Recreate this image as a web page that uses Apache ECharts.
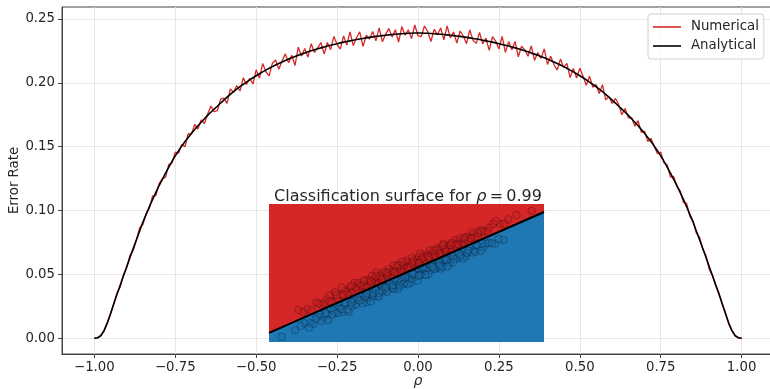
<!DOCTYPE html>
<html><head><meta charset="utf-8">
<script src="https://cdn.jsdelivr.net/npm/echarts@6/dist/echarts.min.js"></script>
<style>html,body{margin:0;padding:0;background:#fff}#c{width:770px;height:389px}</style>
</head><body><div id="c"></div>
<script>
const rho = [-1.00,-0.99,-0.98,-0.97,-0.96,-0.95,-0.94,-0.93,-0.92,-0.91,
-0.90,-0.89,-0.88,-0.87,-0.86,-0.85,-0.84,-0.83,-0.82,-0.81,
-0.80,-0.79,-0.78,-0.77,-0.76,-0.75,-0.74,-0.73,-0.72,-0.71,
-0.70,-0.69,-0.68,-0.67,-0.66,-0.65,-0.64,-0.63,-0.62,-0.61,
-0.60,-0.59,-0.58,-0.57,-0.56,-0.55,-0.54,-0.53,-0.52,-0.51,
-0.50,-0.49,-0.48,-0.47,-0.46,-0.45,-0.44,-0.43,-0.42,-0.41,
-0.40,-0.39,-0.38,-0.37,-0.36,-0.35,-0.34,-0.33,-0.32,-0.31,
-0.30,-0.29,-0.28,-0.27,-0.26,-0.25,-0.24,-0.23,-0.22,-0.21,
-0.20,-0.19,-0.18,-0.17,-0.16,-0.15,-0.14,-0.13,-0.12,-0.11,
-0.10,-0.09,-0.08,-0.07,-0.06,-0.05,-0.04,-0.03,-0.02,-0.01,
0.00,
0.01,0.02,0.03,0.04,0.05,0.06,0.07,0.08,0.09,0.10,
0.11,0.12,0.13,0.14,0.15,0.16,0.17,0.18,0.19,0.20,
0.21,0.22,0.23,0.24,0.25,0.26,0.27,0.28,0.29,0.30,
0.31,0.32,0.33,0.34,0.35,0.36,0.37,0.38,0.39,0.40,
0.41,0.42,0.43,0.44,0.45,0.46,0.47,0.48,0.49,0.50,
0.51,0.52,0.53,0.54,0.55,0.56,0.57,0.58,0.59,0.60,
0.61,0.62,0.63,0.64,0.65,0.66,0.67,0.68,0.69,0.70,
0.71,0.72,0.73,0.74,0.75,0.76,0.77,0.78,0.79,0.80,
0.81,0.82,0.83,0.84,0.85,0.86,0.87,0.88,0.89,0.90,
0.91,0.92,0.93,0.94,0.95,0.96,0.97,0.98,0.99,1.00];

const numerical = [0.0000,0.0003,0.0024,0.0059,0.0126,0.0185,0.0271,0.0356,0.0402,0.0498,
0.0553,0.0650,0.0689,0.0770,0.0866,0.0891,0.0976,0.1018,0.1115,0.1118,
0.1211,0.1248,0.1262,0.1361,0.1374,0.1458,0.1449,0.1517,0.1500,0.1602,
0.1597,0.1674,0.1638,0.1710,0.1682,0.1754,0.1818,0.1774,0.1782,0.1873,
0.1881,0.1840,0.1953,0.1925,0.1979,0.1936,0.2040,0.1988,0.2035,0.1991,
0.2102,0.2038,0.2151,0.2087,0.2055,0.2153,0.2179,0.2106,0.2171,0.2227,
0.2158,0.2217,0.2136,0.2279,0.2211,0.2269,0.2201,0.2307,0.2238,0.2274,
0.2316,0.2225,0.2316,0.2260,0.2364,0.2300,0.2264,0.2368,0.2296,0.2399,
0.2292,0.2353,0.2400,0.2285,0.2373,0.2342,0.2402,0.2329,0.2430,0.2321,
0.2380,0.2425,0.2358,0.2416,0.2320,0.2441,0.2373,0.2416,0.2347,0.2453,
0.2369,
0.2362,0.2445,0.2402,0.2324,0.2420,0.2376,0.2430,0.2337,0.2446,0.2352,
0.2398,0.2311,0.2406,0.2367,0.2307,0.2415,0.2334,0.2309,0.2395,0.2306,
0.2350,0.2254,0.2361,0.2327,0.2265,0.2364,0.2239,0.2323,0.2260,0.2323,
0.2204,0.2287,0.2258,0.2208,0.2290,0.2176,0.2237,0.2192,0.2266,0.2144,
0.2208,0.2144,0.2100,0.2186,0.2120,0.2153,0.2041,0.2112,0.2038,0.2115,
0.2052,0.1981,0.2053,0.1965,0.1987,0.1917,0.1986,0.1867,0.1893,0.1839,
0.1878,0.1832,0.1750,0.1799,0.1726,0.1728,0.1660,0.1704,0.1613,0.1622,
0.1540,0.1564,0.1501,0.1445,0.1458,0.1374,0.1358,0.1262,0.1268,0.1189,
0.1155,0.1064,0.1056,0.0956,0.0918,0.0824,0.0792,0.0698,0.0646,0.0540,
0.0492,0.0411,0.0356,0.0266,0.0201,0.0113,0.0061,0.0022,0.0003,0.0000];

const analytical = [0.0000,0.0004,0.0020,0.0060,0.0120,0.0195,0.0270,0.0345,0.0418,0.0490,
0.0560,0.0632,0.0703,0.0772,0.0840,0.0910,0.0970,0.1030,0.1088,0.1143,
0.1195,0.1245,0.1293,0.1340,0.1385,0.1428,0.1468,0.1505,0.1540,0.1573,
0.1605,0.1635,0.1664,0.1692,0.1719,0.1745,0.1770,0.1794,0.1817,0.1842,
0.1865,0.1888,0.1910,0.1931,0.1951,0.1970,0.1988,0.2006,0.2023,0.2040,
0.2056,0.2071,0.2086,0.2100,0.2114,0.2127,0.2140,0.2152,0.2164,0.2175,
0.2186,0.2196,0.2206,0.2216,0.2225,0.2234,0.2243,0.2251,0.2259,0.2267,
0.2274,0.2281,0.2288,0.2295,0.2301,0.2307,0.2313,0.2319,0.2324,0.2329,
0.2334,0.2339,0.2344,0.2348,0.2352,0.2356,0.2360,0.2364,0.2367,0.2370,
0.2373,0.2376,0.2379,0.2381,0.2383,0.2385,0.2387,0.2388,0.2389,0.2390,
0.2390,
0.2390,0.2389,0.2388,0.2387,0.2385,0.2383,0.2381,0.2379,0.2376,0.2373,
0.2370,0.2367,0.2364,0.2360,0.2356,0.2352,0.2348,0.2344,0.2339,0.2334,
0.2329,0.2324,0.2319,0.2313,0.2307,0.2301,0.2295,0.2288,0.2281,0.2274,
0.2267,0.2259,0.2251,0.2243,0.2234,0.2225,0.2216,0.2206,0.2196,0.2186,
0.2175,0.2164,0.2152,0.2140,0.2127,0.2114,0.2100,0.2086,0.2071,0.2056,
0.2040,0.2023,0.2006,0.1988,0.1970,0.1951,0.1931,0.1910,0.1888,0.1865,
0.1842,0.1817,0.1794,0.1770,0.1745,0.1719,0.1692,0.1664,0.1635,0.1605,
0.1573,0.1540,0.1505,0.1468,0.1428,0.1385,0.1340,0.1293,0.1245,0.1195,
0.1143,0.1088,0.1030,0.0970,0.0910,0.0840,0.0772,0.0703,0.0632,0.0560,
0.0490,0.0418,0.0345,0.0270,0.0195,0.0120,0.0060,0.0020,0.0004,0.0000];

const xTicks = [-1.00,-0.75,-0.50,-0.25,0.00,0.25,0.50,0.75,1.00];
const yTicks = [0.00,0.05,0.10,0.15,0.20,0.25];

// inset: decision boundary and samples (inset feature space)
const boundaryX = [0, 10];
const boundaryY = [0.33, 4.71];
const redPoints = [[1.07,1.16],[1.4,1.19],[1.7,1.43],[1.9,1.34],[2.0,1.42],[2.1,1.55],[2.3,1.46],[2.4,1.80],[2.6,1.69],[2.75,1.86],
[2.85,1.82],[2.9,1.70],[3.0,1.91],[3.1,2.14],[3.2,1.89],[3.3,2.09],[3.4,1.90],[3.45,2.04],[3.5,2.24],[3.6,2.12],
[3.7,2.08],[3.8,2.28],[3.9,2.51],[3.95,2.17],[4.0,2.27],[4.1,2.47],[4.15,2.22],[4.25,2.44],[4.35,2.64],[4.4,2.50],
[4.45,2.43],[4.5,2.60],[4.6,2.57],[4.7,2.49],[4.75,2.78],[4.85,2.71],[4.9,2.53],[4.95,2.64],[5.05,2.87],[5.1,2.76],
[5.2,3.05],[5.3,2.74],[5.35,2.87],[5.4,2.98],[5.5,2.91],[5.6,3.14],[5.7,3.06],[5.75,3.17],[5.8,2.99],[5.9,3.22],
[6.0,3.15],[6.1,3.40],[6.2,3.31],[6.25,3.23],[6.3,3.17],[6.4,3.47],[6.5,3.39],[6.55,3.48],[6.6,3.36],[6.7,3.56],
[6.8,3.69],[6.9,3.53],[7.0,3.67],[7.05,3.61],[7.1,3.55],[7.2,3.81],[7.3,3.75],[7.45,3.89],[7.6,3.82],[7.7,4.05],
[7.85,4.01],[8.0,4.14],[8.15,4.28],[8.4,4.28],[8.7,4.44],[9.55,4.75],
[1.25,1.08],[1.55,1.13],[1.8,1.40],[2.2,1.69],[2.5,1.58],[2.65,1.97],[2.95,1.99],[3.05,1.80],[3.25,2.15],[3.35,2.04],
[3.55,1.99],[3.65,2.26],[3.75,2.39],[3.85,2.19],[4.05,2.38],[4.2,2.55],[4.3,2.37],[4.55,2.77],[4.65,2.70],[4.8,2.61],
[5.0,2.94],[5.15,2.71],[5.25,2.93],[5.45,3.10],[5.55,3.01],[5.65,2.89],[5.85,3.32],[5.95,3.18],[6.05,3.11],[6.15,3.34],
[6.35,3.56],[6.45,3.27],[6.65,3.60],[6.75,3.49],[6.95,3.77],[7.15,3.71],[7.25,3.65],[7.4,3.99],[7.5,3.81],[7.75,4.01],
[7.95,3.99],[8.25,4.38],[8.55,4.28],[9.0,4.60],[4.0,2.13],[5.5,3.21],
[2.2,1.47],[2.45,1.70],[2.7,1.72],[3.15,1.98],[3.45,2.20],[3.7,2.19],[3.9,2.37],[4.1,2.28],[4.3,2.51],[4.55,2.52],
[4.7,2.79],[4.9,2.78],[5.05,2.69],[5.2,2.85],[5.45,2.86],[5.6,3.05],[5.8,3.09],[6.0,3.31],[6.2,3.19],[6.4,3.37],
[6.6,3.52],[6.85,3.55],[7.1,3.78],[7.35,3.75],[7.6,3.96],[3.0,2.04],[4.85,2.90],[6.3,3.49]];
const bluePoints = [[0.46,0.19],[0.95,0.43],[1.3,0.68],[1.5,0.69],[1.6,0.66],[1.75,0.92],[1.9,0.76],[2.0,0.91],[2.1,1.00],[2.25,1.20],
[2.4,1.05],[2.55,1.25],[2.6,1.21],[2.7,1.09],[2.8,1.41],[2.95,1.34],[3.05,1.58],[3.1,1.49],[3.15,1.35],[3.25,1.53],
[3.35,1.66],[3.45,1.53],[3.55,1.44],[3.6,1.61],[3.65,1.74],[3.75,1.70],[3.85,1.92],[3.95,1.68],[4.05,1.87],[4.1,2.02],
[4.15,1.99],[4.25,1.86],[4.35,2.17],[4.45,2.02],[4.55,1.92],[4.6,2.05],[4.65,2.19],[4.75,2.12],[4.85,2.33],[4.95,2.15],
[5.05,2.33],[5.1,2.29],[5.15,2.16],[5.25,2.48],[5.35,2.37],[5.45,2.64],[5.55,2.52],[5.6,2.64],[5.65,2.44],[5.75,2.68],
[5.85,2.61],[5.95,2.83],[6.05,2.65],[6.1,2.74],[6.15,2.82],[6.25,2.66],[6.35,2.98],[6.45,2.90],[6.55,2.85],[6.6,3.00],
[6.7,3.10],[6.85,3.04],[7.0,3.18],[7.15,3.10],[7.3,3.39],[7.45,3.32],[7.6,3.46],[7.8,3.44],[8.0,3.59],[8.22,3.56],[8.52,3.70],
[1.15,0.58],[1.45,0.52],[1.85,0.99],[2.15,0.79],[2.35,1.14],[2.5,1.05],[2.75,1.36],[2.9,1.10],[3.0,1.29],[3.2,1.61],
[3.4,1.40],[3.5,1.64],[3.7,1.47],[3.8,1.66],[3.9,1.86],[4.0,1.64],[4.2,1.92],[4.3,1.81],[4.4,2.11],[4.5,1.96],
[4.7,1.93],[4.8,2.21],[4.9,2.10],[5.0,2.43],[5.2,2.28],[5.3,2.45],[5.4,2.22],[5.5,2.43],[5.7,2.59],[5.8,2.45],
[5.9,2.76],[6.0,2.66],[6.2,2.87],[6.3,2.73],[6.4,3.04],[6.5,2.74],[6.75,3.01],[6.9,3.20],[7.05,3.02],[7.2,3.23],
[7.4,3.24],[7.55,3.52],[7.7,3.30],[7.9,3.57],[8.1,3.58],[8.35,3.73],[5.6,2.72],[4.1,1.83],
[2.05,1.05],[2.3,0.99],[2.65,1.19],[3.0,1.44],[3.3,1.50],[3.55,1.74],[3.8,1.77],[4.0,1.78],[4.25,1.99],[4.5,2.06],
[4.75,2.03],[4.95,2.32],[5.2,2.47],[5.45,2.40],[5.7,2.43],[5.95,2.72],[6.2,2.75],[6.45,2.98],[6.7,2.89],[6.95,3.12],
[7.25,3.31],[7.5,3.27],[7.75,3.57],[1.7,0.83],[2.85,1.18],[5.05,2.09]];

const font = 'DejaVu Sans';
const txt = '#262626';
const chart = echarts.init(document.getElementById('c'), null, {renderer: 'canvas'});
const pairs = (xs, ys) => xs.map((x, i) => [x, ys[i]]);
const fmt = v => (v < 0 ? '\u2212' : '') + Math.abs(v).toFixed(2);

chart.setOption({
  backgroundColor: '#ffffff',
  animation: false,
  textStyle: {fontFamily: font},
  title: {
    text: '{a|Classification surface for }{b|\u03c1}{a|\u2009=\u20090.99}',
    left: 403, top: 184, textAlign: 'center',
    textStyle: {fontWeight: 'normal', rich: {
      a: {fontFamily: font, fontSize: 16, color: txt, fontWeight: 'normal'},
      b: {fontFamily: font, fontSize: 16, color: txt, fontStyle: 'italic', fontWeight: 'normal'}
    }}
  },
  legend: {
    orient: 'vertical', left: 648, top: 14,
    data: ['Numerical', 'Analytical'],
    icon: 'rect', itemWidth: 28, itemHeight: 1.6, itemGap: 3,
    padding: [5, 5, 5, 5],
    borderColor: '#d0d0d0', borderWidth: 1, borderRadius: 3,
    backgroundColor: 'rgba(255,255,255,0.8)',
    textStyle: {fontFamily: font, fontSize: 13.3, color: txt, lineHeight: 16, padding: [0, 0, 0, 5]}
  },
  grid: [
    {left: 62, right: -4, top: 7, bottom: 35, outerBoundsMode: 'none', containLabel: false,
     show: true, borderColor: '#444', borderWidth: 1, backgroundColor: 'transparent', z: 0},
    {left: 269, top: 204, width: 275, height: 138, outerBoundsMode: 'none', containLabel: false,
     show: true, backgroundColor: '#d62728', borderWidth: 0, z: 3}
  ],
  xAxis: [
    {type: 'value', gridIndex: 0, min: -1.1, max: 1.1,
     name: '\u03c1', nameLocation: 'middle', nameGap: 20, nameMoveOverlap: false,
     nameTextStyle: {fontFamily: font, fontSize: 14, color: txt, fontStyle: 'italic'},
     axisLine: {show: true, onZero: false, lineStyle: {color: '#444', width: 1}},
     axisTick: {show: true, length: 4, lineStyle: {color: '#444'}, customValues: xTicks},
     axisLabel: {customValues: xTicks, formatter: fmt, margin: 7, fontFamily: font, fontSize: 13.3, color: txt},
     splitLine: {show: true, lineStyle: {color: '#e6e6e6', width: 1}}},
    {type: 'value', gridIndex: 1, min: 0, max: 10, show: false}
  ],
  yAxis: [
    {type: 'value', gridIndex: 0, min: -0.0123, max: 0.2594,
     name: 'Error Rate', nameLocation: 'middle', nameGap: 41, nameMoveOverlap: false,
     nameTextStyle: {fontFamily: font, fontSize: 13.3, color: txt},
     axisLine: {show: true, onZero: false, lineStyle: {color: '#444', width: 1}},
     axisTick: {show: true, length: 4, lineStyle: {color: '#444'}, customValues: yTicks},
     axisLabel: {customValues: yTicks, formatter: v => v.toFixed(2), margin: 7, fontFamily: font, fontSize: 13.3, color: txt},
     splitLine: {show: true, lineStyle: {color: '#e6e6e6', width: 1}}},
    {type: 'value', gridIndex: 1, min: 0, max: 5, show: false}
  ],
  series: [
    {name: 'Numerical', type: 'line', xAxisIndex: 0, yAxisIndex: 0, data: pairs(rho, numerical),
     showSymbol: false, lineStyle: {color: '#d62728', width: 1.3}, itemStyle: {color: '#d62728'}, z: 2},
    {name: 'Analytical', type: 'line', xAxisIndex: 0, yAxisIndex: 0, data: pairs(rho, analytical),
     showSymbol: false, lineStyle: {color: '#000000', width: 1.6}, itemStyle: {color: '#000000'}, z: 3},
    {name: 'regionBlue', type: 'line', xAxisIndex: 1, yAxisIndex: 1, data: pairs(boundaryX, boundaryY),
     showSymbol: false, lineStyle: {width: 0}, areaStyle: {color: '#1f77b4', opacity: 1, origin: 'start'}, z: 4, silent: true},
    {name: 'class1', type: 'scatter', xAxisIndex: 1, yAxisIndex: 1, data: redPoints, symbol: 'circle', symbolSize: 7.5,
     itemStyle: {color: 'rgba(200,30,32,0.5)', borderColor: 'rgba(0,0,0,0.4)', borderWidth: 0.8}, z: 5},
    {name: 'class0', type: 'scatter', xAxisIndex: 1, yAxisIndex: 1, data: bluePoints, symbol: 'circle', symbolSize: 7.5,
     itemStyle: {color: 'rgba(28,110,170,0.5)', borderColor: 'rgba(0,0,0,0.4)', borderWidth: 0.8}, z: 5},
    {name: 'boundary', type: 'line', xAxisIndex: 1, yAxisIndex: 1, data: pairs(boundaryX, boundaryY),
     showSymbol: false, lineStyle: {color: '#000000', width: 2}, z: 6, silent: true}
  ]
});
</script></body></html>
